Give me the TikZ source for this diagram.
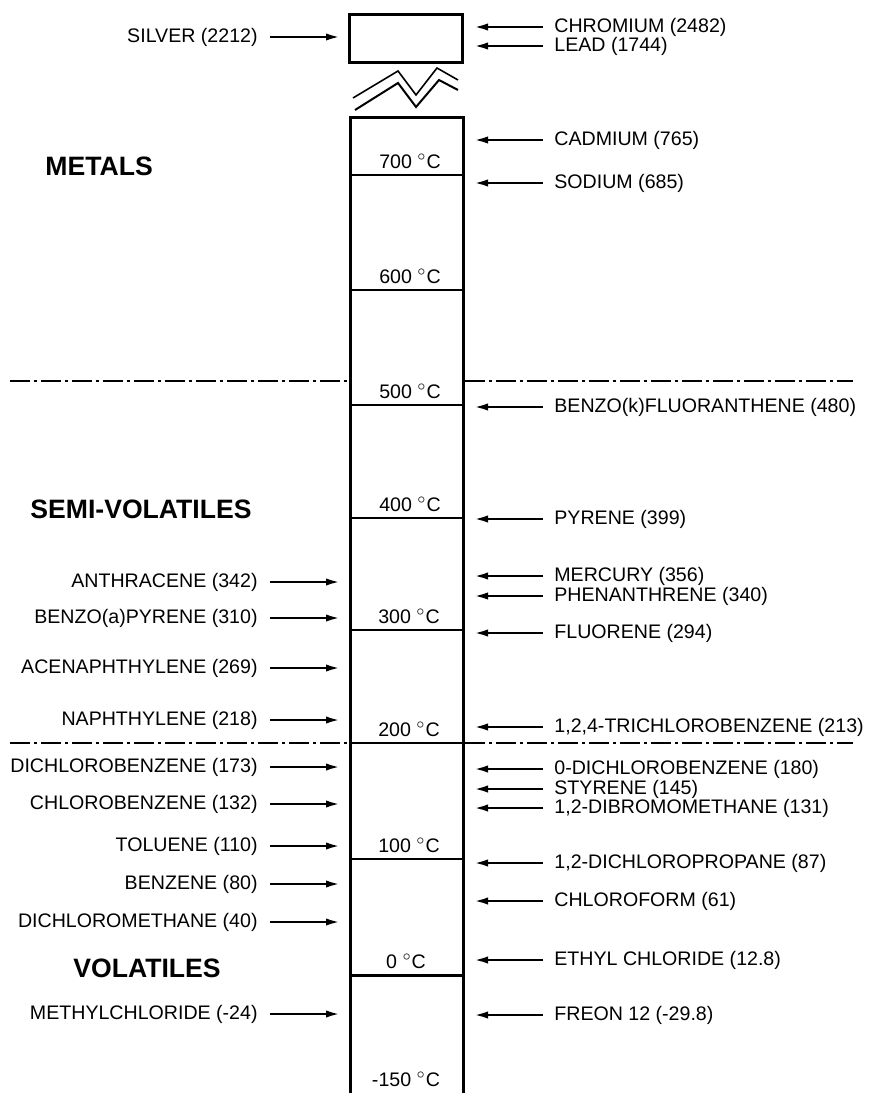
\documentclass[tikz,border=0pt]{standalone}
\usepackage{fontspec}
\setmainfont{Liberation Sans}
\usetikzlibrary{arrows.meta}
\tikzset{
  >={Latex[length=7.5pt,width=3.6pt]},
  lbl/.style={font=\fontsize{9.8}{11}\selectfont, inner sep=3pt},
  leftlbl/.style={lbl, anchor=east},
  rightlbl/.style={lbl, anchor=west},
  temp/.style={font=\fontsize{9.8}{11}\selectfont, anchor=base, inner sep=0pt},
  group/.style={font=\fontsize{13.3}{15}\selectfont\bfseries, anchor=base west, inner sep=0pt},
  inleft/.style={->, line width=1.35pt, shorten <=3pt, shorten >=4.5pt},
  inright/.style={->, line width=1.35pt, shorten <=2.5pt, shorten >=5pt},
  column/.style={line width=1.5pt},
  tick/.style={line width=1pt},
  divider/.style={line width=1.3pt, dash pattern=on 10pt off 2pt on 1.5pt off 2pt},
  brk/.style={line width=0.8pt},
}

\begin{document}
\begin{tikzpicture}[x=0.5pt, y=-0.5pt]
  \useasboundingbox (0,0) rectangle (870,1093);
  \coordinate (colL) at (350,0);
  \coordinate (colR) at (463,0);

  % top box and break
  \node[draw, column, minimum width=56.5pt, minimum height=24pt, inner sep=0pt] (topbox) at (406,38) {};
  \draw[brk] (353,98) -- (398,71) -- (416,95) -- (437,68) -- (458,80);
  \draw[brk, line width=1pt] (355,110) -- (398,83) -- (416,107) -- (439,80) -- (458,90);

  % column
  \draw[column] (350,1093) -- (350,117) -- (463,117) -- (463,1093);
  \draw[tick] (350,175) -- (463,175);
  \draw[tick] (350,290) -- (463,290);
  \draw[tick] (350,405) -- (463,405);
  \draw[tick] (350,518) -- (463,518);
  \draw[tick] (350,630) -- (463,630);
  \draw[tick] (350,743) -- (463,743);
  \draw[tick] (350,859) -- (463,859);
  \draw[column] (350,975) -- (463,975);

  \node[temp] (t700) at (410,168) {700 $^{\circ}$C};
  \node[temp] (t600) at (410,283) {600 $^{\circ}$C};
  \node[temp] (t500) at (410,398) {500 $^{\circ}$C};
  \node[temp] (t400) at (410,511) {400 $^{\circ}$C};
  \node[temp] (t300) at (409,623) {300 $^{\circ}$C};
  \node[temp] (t200) at (409,736) {200 $^{\circ}$C};
  \node[temp] (t100) at (409,852) {100 $^{\circ}$C};
  \node[temp] (t0) at (406,968) {0 $^{\circ}$C};
  \node[temp] (tlow) at (406,1086) {-150 $^{\circ}$C};

  % class borders
  \draw[divider] (10,381) -- (348,381);
  \draw[divider] (465,381) -- (853,381);
  \draw[divider] (10,743) -- (348,743);
  \draw[divider] (465,743) -- (853,743);

  \node[group] (metals) at (45,175) {METALS};
  \node[group] (semivol) at (30,518) {SEMI-VOLATILES};
  \node[group] (vol) at (73,977) {VOLATILES};

  % left side
  \node[leftlbl] (silver) at (264,37) {SILVER (2212)};
  \node[leftlbl] (anthra) at (264,582) {ANTHRACENE (342)};
  \node[leftlbl] (benzoa) at (264,618) {BENZO(a)PYRENE (310)};
  \node[leftlbl] (acena) at (264,668) {ACENAPHTHYLENE (269)};
  \node[leftlbl] (naph) at (264,720) {NAPHTHYLENE (218)};
  \node[leftlbl] (dcb) at (264,767) {DICHLOROBENZENE (173)};
  \node[leftlbl] (clb) at (264,804) {CHLOROBENZENE (132)};
  \node[leftlbl] (tol) at (264,846) {TOLUENE (110)};
  \node[leftlbl] (benz) at (264,884) {BENZENE (80)};
  \node[leftlbl] (dcm) at (264,922) {DICHLOROMETHANE (40)};
  \node[leftlbl] (mecl) at (264,1014) {METHYLCHLORIDE (-24)};

  \draw[inleft] (silver.east) -- (silver.east -| colL);
  \draw[inleft] (anthra.east) -- (anthra.east -| colL);
  \draw[inleft] (benzoa.east) -- (benzoa.east -| colL);
  \draw[inleft] (acena.east) -- (acena.east -| colL);
  \draw[inleft] (naph.east) -- (naph.east -| colL);
  \draw[inleft] (dcb.east) -- (dcb.east -| colL);
  \draw[inleft] (clb.east) -- (clb.east -| colL);
  \draw[inleft] (tol.east) -- (tol.east -| colL);
  \draw[inleft] (benz.east) -- (benz.east -| colL);
  \draw[inleft] (dcm.east) -- (dcm.east -| colL);
  \draw[inleft] (mecl.east) -- (mecl.east -| colL);

  % right side
  \node[rightlbl] (chrom) at (548,27) {CHROMIUM (2482)};
  \node[rightlbl] (lead) at (548,46) {LEAD (1744)};
  \node[rightlbl] (cadm) at (548,140) {CADMIUM (765)};
  \node[rightlbl] (sod) at (548,183) {SODIUM (685)};
  \node[rightlbl] (benzok) at (548,407) {BENZO(k)FLUORANTHENE (480)};
  \node[rightlbl] (pyr) at (548,519) {PYRENE (399)};
  \node[rightlbl] (merc) at (548,576) {MERCURY (356)};
  \node[rightlbl] (phen) at (548,596) {PHENANTHRENE (340)};
  \node[rightlbl] (fluo) at (548,633) {FLUORENE (294)};
  \node[rightlbl] (tcb) at (548,727) {1,2,4-TRICHLOROBENZENE (213)};
  \node[rightlbl] (odcb) at (548,769) {0-DICHLOROBENZENE (180)};
  \node[rightlbl] (styr) at (548,789) {STYRENE (145)};
  \node[rightlbl] (dbm) at (548,808) {1,2-DIBROMOMETHANE (131)};
  \node[rightlbl] (dcp) at (548,863) {1,2-DICHLOROPROPANE (87)};
  \node[rightlbl] (chcl) at (548,901) {CHLOROFORM (61)};
  \node[rightlbl] (etcl) at (548,960) {ETHYL CHLORIDE (12.8)};
  \node[rightlbl] (freon) at (548,1015) {FREON 12 (-29.8)};

  \draw[inright] (chrom.west) -- (chrom.west -| colR);
  \draw[inright] (lead.west) -- (lead.west -| colR);
  \draw[inright] (cadm.west) -- (cadm.west -| colR);
  \draw[inright] (sod.west) -- (sod.west -| colR);
  \draw[inright] (benzok.west) -- (benzok.west -| colR);
  \draw[inright] (pyr.west) -- (pyr.west -| colR);
  \draw[inright] (merc.west) -- (merc.west -| colR);
  \draw[inright] (phen.west) -- (phen.west -| colR);
  \draw[inright] (fluo.west) -- (fluo.west -| colR);
  \draw[inright] (tcb.west) -- (tcb.west -| colR);
  \draw[inright] (odcb.west) -- (odcb.west -| colR);
  \draw[inright] (styr.west) -- (styr.west -| colR);
  \draw[inright] (dbm.west) -- (dbm.west -| colR);
  \draw[inright] (dcp.west) -- (dcp.west -| colR);
  \draw[inright] (chcl.west) -- (chcl.west -| colR);
  \draw[inright] (etcl.west) -- (etcl.west -| colR);
  \draw[inright] (freon.west) -- (freon.west -| colR);
\end{tikzpicture}
\end{document}
